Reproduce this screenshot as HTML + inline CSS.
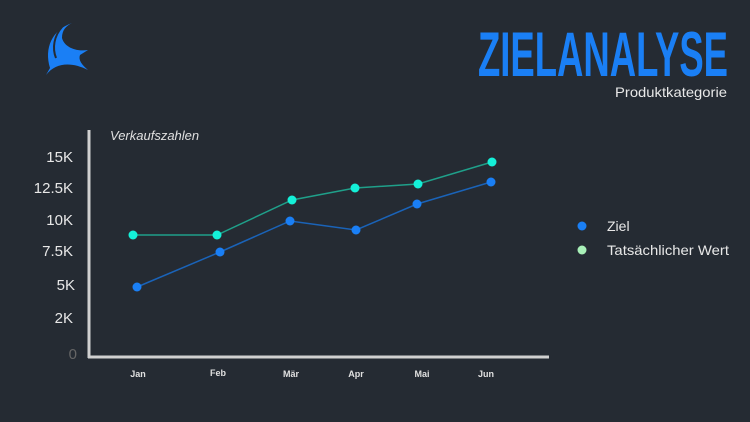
<!DOCTYPE html>
<html><head><meta charset="utf-8"><style>
html,body{margin:0;padding:0;background:#252b33;}
body{width:750px;height:422px;overflow:hidden;position:relative;font-family:"Liberation Sans",sans-serif;}
</style></head><body>
<svg width="750" height="422" viewBox="0 0 750 422" xmlns="http://www.w3.org/2000/svg" style="position:absolute;left:0;top:0">
<rect width="750" height="422" fill="#252b33"/>
<path d="M72 23 C52 30 44 48 50 68 L46 75 C56 62 72 62 88 70 C82 65 78 60 80 55 L88 50 C74 52 64 46 62 38 C62 30 66 26 72 23 Z" fill="#1a7ff5"/>
<path d="M62 27 C54 36 52 48 56 58" stroke="#252b33" stroke-width="2" fill="none"/>
<text x="728" y="76" text-anchor="end" font-family="Liberation Sans Narrow, Liberation Sans, sans-serif" font-weight="bold" font-size="63" fill="#1a7ff5" textLength="250" lengthAdjust="spacingAndGlyphs">ZIELANALYSE</text>
<text x="727" y="97" text-anchor="end" font-family="Liberation Sans Narrow, Liberation Sans, sans-serif" font-size="14" fill="#e8e8e8" textLength="112" lengthAdjust="spacingAndGlyphs">Produktkategorie</text>
<line x1="89" y1="130" x2="89" y2="358" stroke="#d0d0d0" stroke-width="3"/>
<line x1="88" y1="357" x2="549" y2="357" stroke="#d0d0d0" stroke-width="3"/>
<text x="110" y="140" font-size="13" font-style="italic" fill="#e0e0e0">Verkaufszahlen</text>
<g font-size="15" fill="#e8e8e8" text-anchor="end">
<text x="73" y="162">15K</text>
<text x="73" y="193">12.5K</text>
<text x="73" y="225">10K</text>
<text x="73" y="256">7.5K</text>
<text x="75" y="290">5K</text>
<text x="73" y="323">2K</text>
<text x="77" y="359" fill="#666">0</text>
</g>
<g font-size="9" fill="#e0e0e0" text-anchor="middle" font-weight="bold" font-family="Liberation Sans Narrow, Liberation Sans, sans-serif">
<text x="138" y="377">Jan</text>
<text x="218" y="376">Feb</text>
<text x="291" y="377">Mär</text>
<text x="356" y="377">Apr</text>
<text x="422" y="377">Mai</text>
<text x="486" y="377">Jun</text>
</g>
<polyline points="133,235 217,235 292,200 355,188 418,184 492,162" fill="none" stroke="#1fa08a" stroke-width="1.5"/>
<polyline points="137,287 220,252 290,221 356,230 417,204 491,182" fill="none" stroke="#1a63b8" stroke-width="1.5"/>
<g fill="#14f0d8">
<circle cx="133" cy="235" r="4.5"/><circle cx="217" cy="235" r="4.5"/><circle cx="292" cy="200" r="4.5"/><circle cx="355" cy="188" r="4.5"/><circle cx="418" cy="184" r="4.5"/><circle cx="492" cy="162" r="4.5"/>
</g>
<g fill="#1a7ff5">
<circle cx="137" cy="287" r="4.5"/><circle cx="220" cy="252" r="4.5"/><circle cx="290" cy="221" r="4.5"/><circle cx="356" cy="230" r="4.5"/><circle cx="417" cy="204" r="4.5"/><circle cx="491" cy="182" r="4.5"/>
</g>
<circle cx="582" cy="226" r="4.5" fill="#1a7ff5"/>
<text x="607" y="231" font-size="14" fill="#e8e8e8">Ziel</text>
<circle cx="582" cy="250" r="4.5" fill="#a8f0b8"/>
<text x="607" y="255" font-size="14" fill="#e8e8e8" textLength="122" lengthAdjust="spacingAndGlyphs">Tatsächlicher Wert</text>
</svg>
</body></html>
